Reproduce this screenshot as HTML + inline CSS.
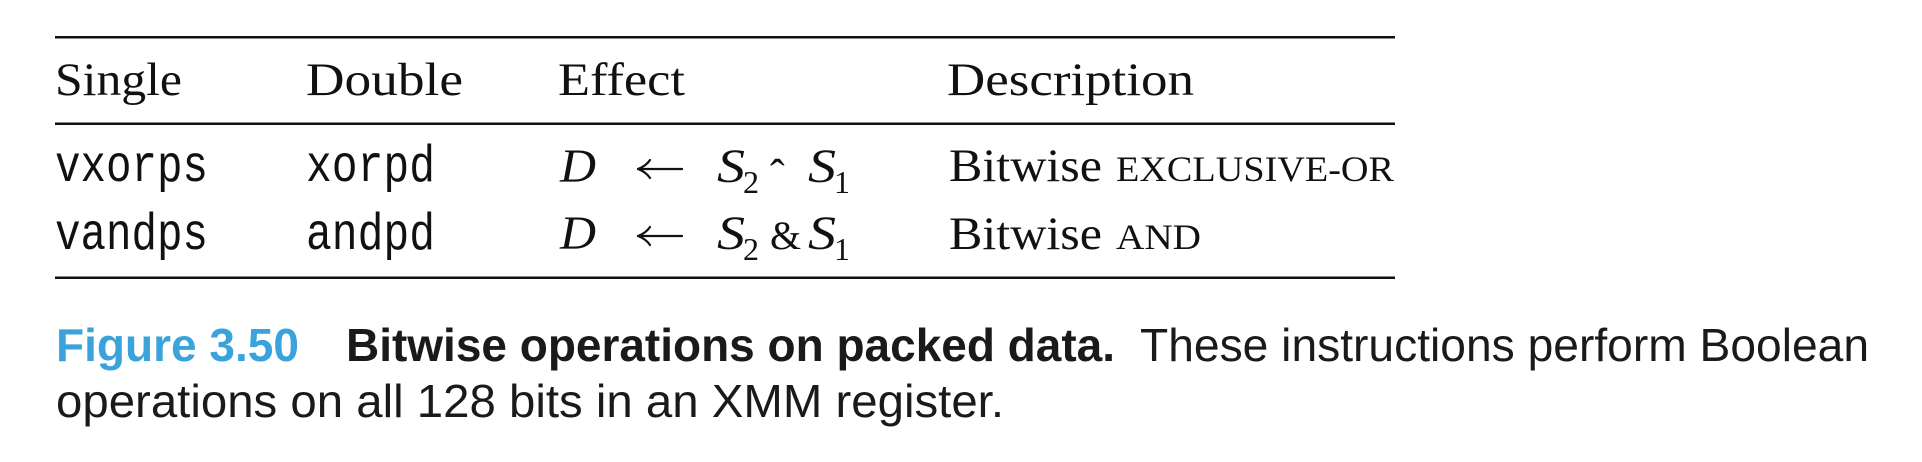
<!DOCTYPE html>
<html><head><meta charset="utf-8"><style>
html,body{margin:0;padding:0;background:#fff;}
svg{display:block}
.s{font-family:"Liberation Serif",serif;fill:#111;}
.m{font-family:"Liberation Mono",monospace;fill:#111;}
.c{font-family:"Liberation Sans",sans-serif;fill:#1a1a1a;}
</style></head><body>
<svg width="1922" height="462" viewBox="0 0 1922 462" xmlns="http://www.w3.org/2000/svg">
<rect x="55" y="36" width="1340" height="2.5" fill="#111"/>
<rect x="55" y="122.5" width="1340" height="2.5" fill="#111"/>
<rect x="55" y="276.5" width="1340" height="2.5" fill="#111"/>

<g class="s" font-size="47">
<text x="55" y="95" textLength="127" lengthAdjust="spacingAndGlyphs">Single</text>
<text x="306" y="95" textLength="157" lengthAdjust="spacingAndGlyphs">Double</text>
<text x="558" y="95" textLength="127" lengthAdjust="spacingAndGlyphs">Effect</text>
<text x="947" y="95" textLength="247" lengthAdjust="spacingAndGlyphs">Description</text>
</g>

<g class="m" font-size="52">
<text x="55" y="181" textLength="153" lengthAdjust="spacingAndGlyphs">vxorps</text>
<text x="306" y="181" textLength="129" lengthAdjust="spacingAndGlyphs">xorpd</text>
<text x="55" y="249" textLength="153" lengthAdjust="spacingAndGlyphs">vandps</text>
<text x="306" y="249" textLength="129" lengthAdjust="spacingAndGlyphs">andpd</text>
</g>

<g fill="none" stroke="#111" stroke-width="2.2" stroke-linecap="round">
<path d="M638 169 H682 M638 169 Q646 166 650 160 M638 169 Q646 172 650 178"/>
<path d="M638 236 H682 M638 236 Q646 233 650 227 M638 236 Q646 239 650 245"/>
</g>

<g class="s" font-size="48">
<text x="560" y="182" font-style="italic" textLength="36" lengthAdjust="spacingAndGlyphs">D</text>
<text x="717" y="182" font-style="italic" textLength="28" lengthAdjust="spacingAndGlyphs">S</text><text x="743" y="193" font-size="32">2</text>
<text x="770" y="190" font-size="44">ˆ</text>
<text x="808" y="182" font-style="italic" textLength="28" lengthAdjust="spacingAndGlyphs">S</text><text x="834" y="193" font-size="32">1</text>

<text x="560" y="249" font-style="italic" textLength="36" lengthAdjust="spacingAndGlyphs">D</text>
<text x="717" y="249" font-style="italic" textLength="28" lengthAdjust="spacingAndGlyphs">S</text><text x="743" y="260" font-size="32">2</text>
<text x="770" y="249" font-size="40">&amp;</text>
<text x="808" y="249" font-style="italic" textLength="28" lengthAdjust="spacingAndGlyphs">S</text><text x="834" y="260" font-size="32">1</text>
</g>

<g class="s" font-size="47">
<text x="949" y="181" textLength="153" lengthAdjust="spacingAndGlyphs">Bitwise</text>
<text x="1116" y="181" font-size="36" textLength="278" lengthAdjust="spacingAndGlyphs">EXCLUSIVE-OR</text>
<text x="949" y="249" textLength="153" lengthAdjust="spacingAndGlyphs">Bitwise</text>
<text x="1116" y="249" font-size="36" textLength="85" lengthAdjust="spacingAndGlyphs">AND</text>
</g>

<g class="c" font-size="46">
<text x="56" y="361" font-weight="bold" textLength="243" lengthAdjust="spacingAndGlyphs" style="fill:#3aa3db">Figure 3.50</text>
<text x="346" y="361" font-weight="bold" textLength="769" lengthAdjust="spacingAndGlyphs">Bitwise operations on packed data.</text>
<text x="1140" y="361" textLength="729" lengthAdjust="spacingAndGlyphs">These instructions perform Boolean</text>
<text x="56" y="417" textLength="948" lengthAdjust="spacingAndGlyphs">operations on all 128 bits in an XMM register.</text>
</g>
</svg>
</body></html>
